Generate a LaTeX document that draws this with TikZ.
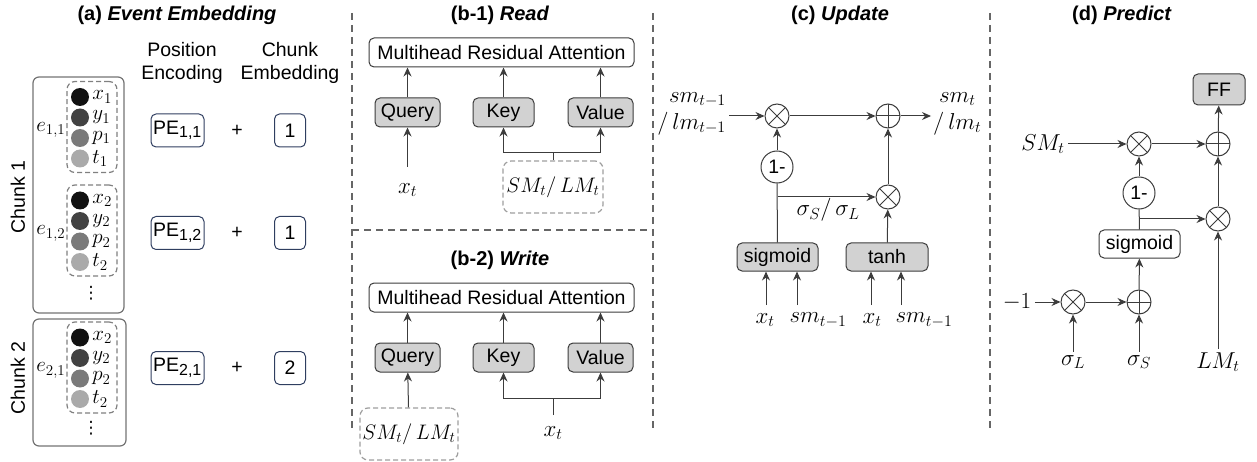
\documentclass[tikz,border=0pt]{standalone}
\usepackage{fix-cm}
\usepackage[no-math]{fontspec}
\setmainfont{Liberation Sans}
\newfontfamily\dotsfont{DejaVu Sans}
\usetikzlibrary{arrows.meta, positioning}
\DeclareMathSizes{19.5}{23}{16}{12}
\DeclareMathSizes{19}{21}{15}{12}

\definecolor{edgegray}{RGB}{60,60,60}
\definecolor{boxgray}{RGB}{210,210,210}
\definecolor{peblue}{RGB}{47,62,96}
\definecolor{dota}{RGB}{17,17,17}
\definecolor{dotb}{RGB}{66,66,66}
\definecolor{dotc}{RGB}{122,122,122}
\definecolor{dotd}{RGB}{170,170,170}

\begin{document}
\begin{tikzpicture}
	  [x=1pt, y=-1pt,
	  every node/.style={font=\fontsize{19.5}{23}\selectfont},
	  %
	  paneltitle/.style={font=\fontsize{20}{24}\selectfont\bfseries},
	  %
	  block/.style={rectangle, draw=edgegray, fill=white, rounded corners=5pt, line width=1pt, minimum height=29pt, inner sep=2pt},
	  %
	  gblock/.style={block, fill=boxgray},
	  %
	  memory/.style={rectangle, draw=black!38, dash pattern=on 5pt off 3pt, rounded corners=8pt, line width=1.2pt, minimum width=100pt, minimum height=52pt, inner sep=1pt, font=\fontsize{19}{23}\selectfont},
	  %
	  chunkbox/.style={rectangle, draw=black!55, rounded corners=6pt, line width=1.2pt},
	  %
	  evbox/.style={rectangle, draw=black!50, dash pattern=on 5pt off 3pt, rounded corners=8pt, line width=1.2pt, minimum width=50pt, minimum height=91pt},
	  %
	  dot/.style={circle, minimum size=18pt, inner sep=0pt},
	  %
	  pebox/.style={rectangle, draw=peblue, rounded corners=5pt, line width=1pt, minimum height=33pt, inner sep=2pt},
	  %
	  prodnode/.style={circle, draw=edgegray, line width=1pt, minimum size=24pt, inner sep=0pt, path picture={\draw[edgegray, line width=1pt] (path picture bounding box.north west) -- (path picture bounding box.south east) (path picture bounding box.north east) -- (path picture bounding box.south west);}},
	  %
	  sumnode/.style={circle, draw=edgegray, line width=1pt, minimum size=24pt, inner sep=0pt, path picture={\draw[edgegray, line width=1pt] (path picture bounding box.north) -- (path picture bounding box.south) (path picture bounding box.east) -- (path picture bounding box.west);}},
	  %
	  onenode/.style={circle, draw=edgegray, line width=1pt, minimum size=32pt, inner sep=0pt},
	  %
	  customline/.style={draw=edgegray, line width=1pt, arrows={-Stealth[length=9pt, width=8pt]}},
	  %
	  plainline/.style={draw=edgegray, line width=1pt},
	  %
	  divider/.style={draw=black!60, line width=1.5pt, dash pattern=on 7pt off 5pt}]

	    \useasboundingbox (0,0) rectangle (1257,462);

% 	    (a) event embedding
	    \node [paneltitle] (ttla) at (177,15) {(a) \textit{Event Embedding}};
	    \node [align=center] (poshead) at (182,63) {Position\\Encoding};
	    \node [align=center] (chkhead) at (290,63) {Chunk\\Embedding};
	    \node [chunkbox, minimum width=91pt, minimum height=236pt] (chunka) at (78.5,195) {};
	    \node [chunkbox, minimum width=93pt, minimum height=127pt] (chunkb) at (79.5,382.5) {};
	    \node [rotate=90] (chunkalab) at (18,197) {Chunk 1};
	    \node [rotate=90] (chunkblab) at (18,378) {Chunk 2};
	    \foreach \ev/\cy/\k/\lab in {ea/127/1/{1,1}, eb/230.5/2/{1,2}, ec/367.5/2/{2,1}}{
	      \node [evbox] (\ev) at (92,\cy) {};
	      \node [anchor=east, inner sep=1pt, font=\fontsize{19}{23}\selectfont] (\ev-lab) at ([yshift=-3pt]\ev.west) {$e_{\lab}$};
	      \foreach \v/\col [count=\j] in {x/dota, y/dotb, p/dotc, t/dotd}
	        \node [dot, fill=\col, label={[inner sep=1pt, label distance=2pt, font=\fontsize{19}{23}\selectfont]east:$\v_{\k}$}] (\ev\v) at (80,{\cy-30+(\j-1)*20.5}) {};
	    }
	    \node [font=\dotsfont\fontsize{17}{20}\selectfont] (vdotsa) at (91,293) {⋮};
	    \node [font=\dotsfont\fontsize{17}{20}\selectfont] (vdotsb) at (91,428) {⋮};
	    \foreach \row/\cy/\pe/\ck in {1/130.5/{1,1}/1, 2/233/{1,2}/1, 3/368/{2,1}/2}{
	      \node [pebox, minimum width=53pt] (pe\row) at (177.5,\cy) {PE\textsubscript{\pe}};
	      \node (plus\row) at (237,\cy) {+};
	      \node [pebox, minimum width=31pt] (ck\row) at (290,\cy) {\ck};
	    }

% 	    dividers
	    \draw [divider] (352,13) -- (352,432);
	    \draw [divider] (653,13) -- (653,432);
	    \draw [divider] (352,230) -- (653,230);
	    \draw [divider] (990,13) -- (990,430);

% 	    (b-1) read
	    \node [paneltitle] (ttlr) at (500,15) {(b-1) \textit{Read}};
	    \node [block, minimum width=265pt] (mhar) at (501.5,52.5) {Multihead Residual Attention};
	    \node [gblock, minimum width=65pt] (qr) at (407.5,112.5) {Query};
	    \node [gblock, minimum width=61pt] (kr) at (503.5,112.5) {Key};
	    \node [gblock, minimum width=65pt] (vr) at (600.5,112.5) {Value};
	    \node (xr) at (407.5,190) {$x_t$};
	    \node [memory] (memr) at (553,187) {$SM_t/\,LM_t$};
	    \coordinate (xrtop) at (407.5,167);
	    \coordinate (jr) at (553,153);
	    \draw [customline] (xrtop) -- (qr);
	    \draw [customline] (qr) -- (qr |- mhar.south);
	    \draw [customline] (kr) -- (kr |- mhar.south);
	    \draw [customline] (vr) -- (vr |- mhar.south);
	    \draw [plainline] (memr) -- (jr);
	    \draw [customline] (jr) -| (kr);
	    \draw [customline] (jr) -| (vr);

% 	    (b-2) write
	    \node [paneltitle] (ttlw) at (500,260) {(b-2) \textit{Write}};
	    \node [block, minimum width=265pt] (mhaw) at (501.5,297.5) {Multihead Residual Attention};
	    \node [gblock, minimum width=65pt] (qw) at (407.5,357.5) {Query};
	    \node [gblock, minimum width=61pt] (kw) at (503.5,357.5) {Key};
	    \node [gblock, minimum width=65pt] (vw) at (600.5,357.5) {Value};
	    \node [memory, minimum width=98pt] (memw) at (409,434) {$SM_t/\,LM_t$};
	    \node (xw) at (553,433) {$x_t$};
	    \coordinate (xwtop) at (553,415);
	    \coordinate (jw) at (553,398);
	    \draw [customline] (memw) -- (qw);
	    \draw [customline] (qw) -- (qw |- mhaw.south);
	    \draw [customline] (kw) -- (kw |- mhaw.south);
	    \draw [customline] (vw) -- (vw |- mhaw.south);
	    \draw [plainline] (xwtop) -- (jw);
	    \draw [customline] (jw) -| (kw);
	    \draw [customline] (jw) -| (vw);

% 	    (c) update
	    \node [paneltitle] (ttlu) at (840,15) {(c) \textit{Update}};
	    \node [prodnode] (mula) at (777,116) {};
	    \node [sumnode] (adda) at (888,116) {};
	    \node [onenode] (onea) at (777,167) {1-};
	    \node [prodnode] (mulb) at (888,197) {};
	    \node [gblock, minimum width=81pt, minimum height=28pt] (siga) at (777.5,257) {sigmoid};
	    \node [gblock, minimum width=82pt, minimum height=28pt] (tanha) at (887,257) {tanh};
	    \node [align=right, anchor=east, inner sep=3pt, font=\fontsize{19.5}{27}\selectfont] (smin) at (729,113.5) {$sm_{t-1}$\\$/\,lm_{t-1}$};
	    \node [align=center, anchor=west, inner sep=2pt, font=\fontsize{19.5}{27}\selectfont] (smout) at (931,113.5) {$sm_t$\\$/\,lm_t$};
	    \node (sigmalab) at (828,210) {$\sigma_S/\,\sigma_L$};
	    \draw [customline] (smin.east |- mula) -- (mula);
	    \draw [customline] (mula) -- (adda);
	    \draw [customline] (adda) -- (smout.west |- adda);
	    \draw [plainline] (siga) -- (onea);
	    \draw [customline] (onea) -- (mula);
	    \draw [customline] (siga |- mulb) -- (mulb);
	    \draw [customline] (tanha) -- (mulb);
	    \draw [customline] (mulb) -- (adda);
	    \foreach \nm/\lx/\ax/\tgt/\txt in {ia/765/766/siga/x_t, ib/818/797/siga/sm_{t-1}, ic/872/871/tanha/x_t, id/924/901/tanha/sm_{t-1}}{
	      \node (\nm) at (\lx,320) {$\txt$};
	      \coordinate (\nm-top) at (\ax,305);
	      \draw [customline] (\nm-top) -- (\nm-top |- \tgt.south);
	    }

% 	    (d) predict
	    \node [paneltitle] (ttlp) at (1122,15) {(d) \textit{Predict}};
	    \node [gblock, minimum width=52pt, minimum height=31pt] (ff) at (1219,89.5) {FF};
	    \node [sumnode] (addt) at (1218,144) {};
	    \node [prodnode] (mult) at (1139,144) {};
	    \node (smlab) at (1043,144) {$SM_t$};
	    \node [onenode] (onep) at (1139,193) {1-};
	    \node [prodnode] (mulr) at (1218,219) {};
	    \node [block, minimum width=81pt, minimum height=28pt] (sigp) at (1139.5,244) {sigmoid};
	    \node [sumnode] (addb) at (1139,302) {};
	    \node [prodnode] (mull) at (1073,302) {};
	    \node (neg) at (1017,302) {$-1$};
	    \node (sigl) at (1073,362) {$\sigma_L$};
	    \node (sigs) at (1139,362) {$\sigma_S$};
	    \node (lmlab) at (1218,362) {$LM_t$};
	    \draw [customline] (smlab) -- (mult);
	    \draw [customline] (mult) -- (addt);
	    \draw [customline] (addt) -- (ff);
	    \draw [customline] (mulr) -- (addt);
	    \draw [customline] (onep) -- (mult);
	    \draw [plainline] (sigp) -- (onep);
	    \draw [customline] (onep |- mulr) -- (mulr);
	    \draw [customline] (addb) -- (sigp);
	    \draw [customline] (neg) -- (mull);
	    \draw [customline] (mull) -- (addb);
	    \draw [customline] (sigl) -- (mull);
	    \draw [customline] (sigs) -- (addb);
	    \draw [customline] (lmlab) -- (mulr);
	  \end{tikzpicture}
\end{document}
